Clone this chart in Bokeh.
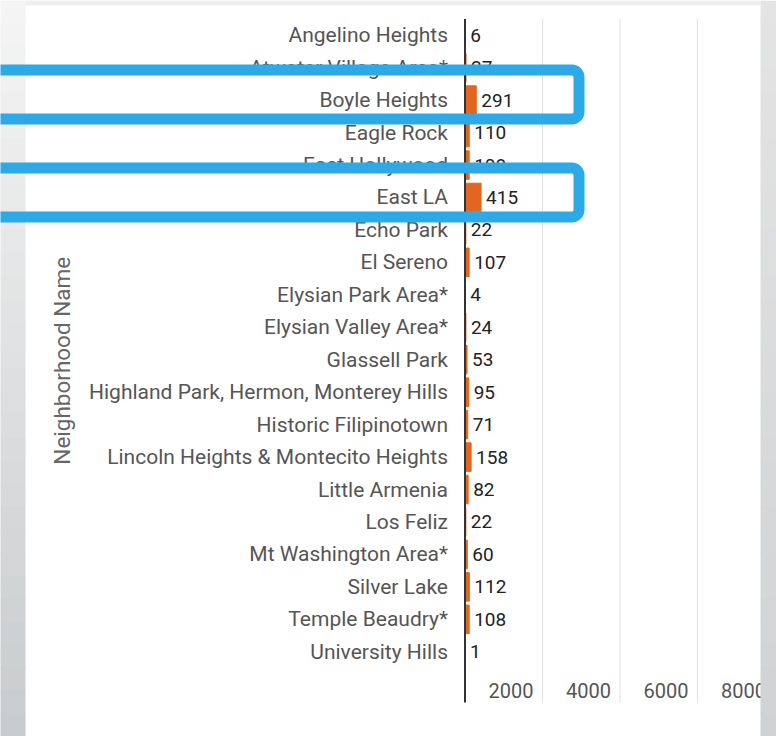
import math
from bokeh.plotting import figure
from bokeh.models import Range1d, BoxAnnotation, Label, ColumnDataSource
from bokeh.core.properties import value
from bokeh.embed import file_html
from bokeh.resources import INLINE

names = ["Angelino Heights", "Atwater Village Area*", "Boyle Heights", "Eagle Rock",
         "East Hollywood", "East LA", "Echo Park", "El Sereno", "Elysian Park Area*",
         "Elysian Valley Area*", "Glassell Park", "Highland Park, Hermon, Monterey Hills",
         "Historic Filipinotown", "Lincoln Heights & Montecito Heights", "Little Armenia",
         "Los Feliz", "Mt Washington Area*", "Silver Lake", "Temple Beaudry*", "University Hills"]
counts = [6, 27, 291, 110, 108, 415, 22, 107, 4, 24, 53, 95, 71, 158, 82, 22, 60, 112, 108, 1]
x_ticks = [2000, 4000, 6000, 8000]
axis_title = "Neighborhood Name"

FONT = "Roboto"
W, H = 776, 736

# layout (pixels)
X0_PX = 464.5            # where value 0 sits
PX_PER_UNIT = 77.5 / 2000
TOP_PX, ROW_PX = 18.5, 32.45
PLOT_BOTTOM_PX = 702
n = len(names)
first_center = TOP_PX + ROW_PX / 2


def row_of(px):
    return (px - first_center) / ROW_PX


rows = list(range(n))
src = ColumnDataSource(dict(names=names, counts=counts, rows=rows, labels=[str(c) for c in counts]))

p = figure(width=W, height=H, title=None,
           x_range=Range1d(-X0_PX / PX_PER_UNIT, (W - X0_PX) / PX_PER_UNIT),
           y_range=Range1d(row_of(H), row_of(0)),
           output_backend="svg", toolbar_location=None,
           min_border_left=0, min_border_right=0, min_border_top=0, min_border_bottom=0)
p.xaxis.visible = False
p.yaxis.visible = False
p.xgrid.visible = False
p.ygrid.visible = False
p.outline_line_color = None
p.background_fill_color = "white"
p.border_fill_color = "white"

y_top, y_bot = row_of(TOP_PX), row_of(PLOT_BOTTOM_PX)

# grid lines at the x ticks
p.segment(x0=x_ticks, x1=x_ticks, y0=[y_top] * len(x_ticks), y1=[y_bot] * len(x_ticks),
          line_color="#e0e0e0", line_width=1)

# bars
p.hbar(y="rows", left=0, right="counts", height=0.88, color="#e2661f", source=src)

# y axis line
p.segment(x0=[0], x1=[0], y0=[y_top], y1=[y_bot], line_color="#333333", line_width=2)

# category labels (y axis tick labels)
p.text(x=0, y="rows", text="names", source=src, x_offset=-17, text_align="right",
       text_baseline="middle", text_font=value(FONT), text_font_size="21px", text_color="#555555")

# value labels
p.text(x="counts", y="rows", text="labels", source=src, x_offset=5, text_baseline="middle",
       text_font=value(FONT), text_font_size="19px", text_color="#222222")

# x tick labels
p.text(x=x_ticks, y=[row_of(690)] * len(x_ticks), text=[str(t) for t in x_ticks], x_offset=-9,
       text_align="right", text_baseline="middle", text_font=value(FONT),
       text_font_size="20px", text_color="#555555")

# axis title
p.add_layout(Label(x=61, y=(TOP_PX + PLOT_BOTTOM_PX) / 2, x_units="canvas", y_units="canvas",
                   text=axis_title, angle=math.pi / 2, text_align="center", text_baseline="middle",
                   text_font=FONT, text_font_size="22.5px", text_color="#666666"))


def lerp(c1, c2, f):
    a = [int(c1[i:i + 2], 16) for i in (1, 3, 5)]
    b = [int(c2[i:i + 2], 16) for i in (1, 3, 5)]
    return "#" + "".join(f"{round(a[k] + (b[k] - a[k]) * f):02x}" for k in range(3))


def box(left, right, top, bottom, **kw):
    p.add_layout(BoxAnnotation(left=left, right=right, top=top, bottom=bottom,
                               left_units="canvas", right_units="canvas",
                               top_units="canvas", bottom_units="canvas", level="overlay", **kw))


# page background strips around the white panel
bands = 32
for i in range(bands):
    y0 = H * i / bands
    y1 = H * (i + 1) / bands + 1
    f = (i + 0.5) / bands
    box(-2, 25, y0, y1, fill_color=lerp("#f5f5f5", "#c8cbcd", f), fill_alpha=1, line_color=None)
    box(760, W + 2, y0, y1, fill_color=lerp("#e4e4e4", "#d0d2d4", f), fill_alpha=1, line_color=None)
box(25, 760, -2, 5, fill_color="#efefef", fill_alpha=1, line_color=None)

# blue highlight frames
for top, bottom in [(69.5, 118.5), (167.5, 216.5)]:
    box(-40, 578.5, top, bottom, fill_alpha=0, line_color="#2ea9e8", line_alpha=1,
        line_width=11, border_radius=7)

open("out.html", "w").write(file_html(p, INLINE))
